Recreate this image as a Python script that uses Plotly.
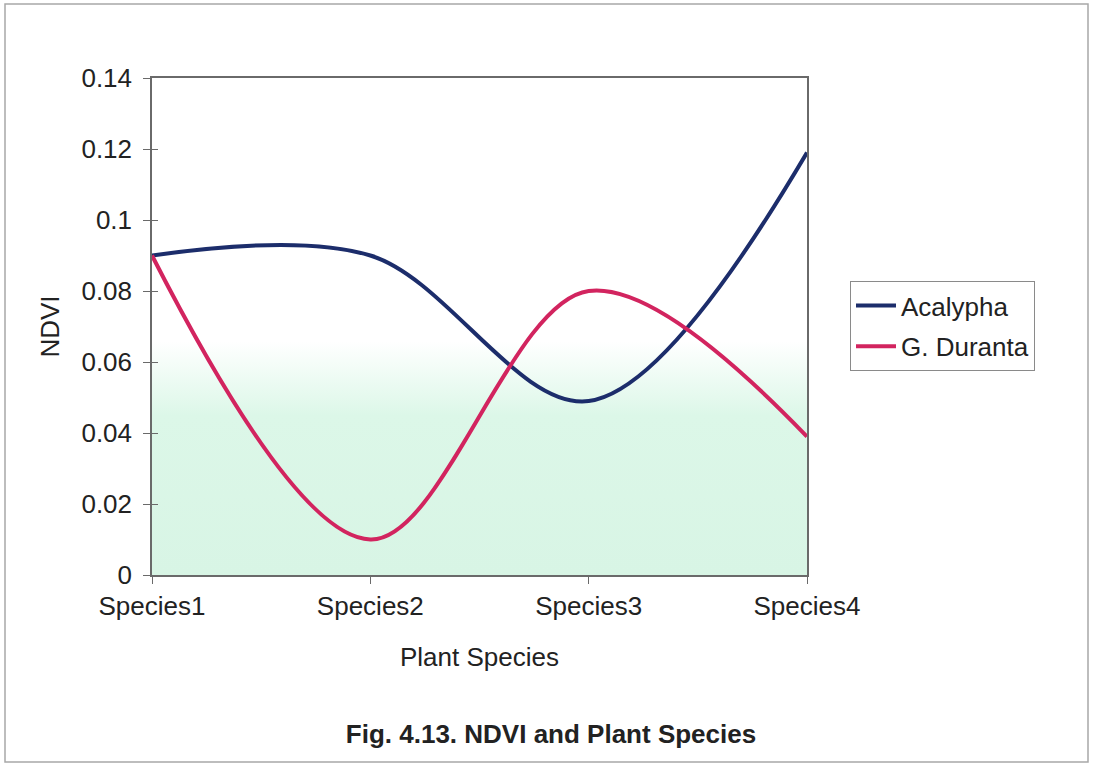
import base64
import plotly.graph_objects as go

# Plant species on the category axis
species = ["Species1", "Species2", "Species3", "Species4"]

# NDVI values per species
acalypha = [0.090, 0.090, 0.049, 0.119]
g_duranta = [0.090, 0.010, 0.080, 0.039]

# Y axis ticks
y_ticks = [0, 0.02, 0.04, 0.06, 0.08, 0.1, 0.12, 0.14]
y_tick_text = ["0", "0.02", "0.04", "0.06", "0.08", "0.1", "0.12", "0.14"]

FONT = "Arial, Liberation Sans, sans-serif"
TEXT = "#222222"
AXIS = "#6a6a6a"
FS = 26

fig = go.Figure()
fig.add_trace(go.Scatter(
    x=species, y=acalypha, name="Acalypha", mode="lines",
    line=dict(color="#1c2d6b", width=4, shape="spline", smoothing=1.0),
    legendgroup="a",
))
fig.add_trace(go.Scatter(
    x=species, y=g_duranta, name="G. Duranta", mode="lines",
    line=dict(color="#d2245f", width=4, shape="spline", smoothing=1.0),
    legendgroup="b",
))
# empty trace so the overlay axis (inner tick marks) is drawn
fig.add_trace(go.Scatter(
    x=[], y=[], yaxis="y2", showlegend=False, hoverinfo="skip",
))

# Soft white-to-mint wash behind the plot area
svg = (
    "<svg xmlns='http://www.w3.org/2000/svg' width='100' height='100' "
    "preserveAspectRatio='none'><defs><linearGradient id='g' x1='0' y1='0' "
    "x2='0' y2='1'><stop offset='0.53' stop-color='#ffffff'/>"
    "<stop offset='0.68' stop-color='#dcf7e8'/>"
    "<stop offset='1' stop-color='#d8f5e5'/></linearGradient></defs>"
    "<rect width='100' height='100' fill='url(#g)'/></svg>"
)
svg_uri = "data:image/svg+xml;base64," + base64.b64encode(svg.encode()).decode()

fig.update_layout(
    width=1098, height=770,
    margin=dict(l=152, r=291, t=78, b=195),
    paper_bgcolor="white",
    plot_bgcolor="rgba(0,0,0,0)",
    font=dict(family=FONT, size=FS, color=TEXT),
    images=[dict(
        source=svg_uri, xref="paper", yref="paper", x=0, y=1,
        sizex=1, sizey=1, sizing="stretch", layer="below",
        xanchor="left", yanchor="top",
    )],
    title=dict(
        text="<b>Fig. 4.13. NDVI and Plant Species</b>",
        x=551 / 1098, xref="container", xanchor="center",
        y=36 / 770, yref="container", yanchor="middle",
        font=dict(family=FONT, size=26, color=TEXT),
    ),
    xaxis=dict(
        type="category", range=[0, 3],
        showline=True, linecolor=AXIS, linewidth=1.5, mirror=True,
        ticks="outside", ticklen=7, tickcolor=AXIS, tickwidth=1,
        showgrid=False, zeroline=False,
        tickfont=dict(size=FS, color=TEXT),
        title=dict(text="Plant Species", font=dict(size=FS, color=TEXT), standoff=28),
    ),
    yaxis=dict(
        range=[0, 0.14], tickvals=y_ticks, ticktext=y_tick_text,
        showline=True, linecolor=AXIS, linewidth=1.5, mirror=True,
        ticks="outside", ticklen=7, tickcolor=AXIS, tickwidth=1,
        ticklabelstandoff=6,
        showgrid=False, zeroline=False,
        tickfont=dict(size=FS, color=TEXT),
        title=dict(text="NDVI", font=dict(size=FS, color=TEXT), standoff=14),
    ),
    # inner half of the crossing y ticks
    yaxis2=dict(
        overlaying="y", side="left", anchor="x",
        range=[0, 0.14], tickvals=y_ticks,
        ticks="inside", ticklen=6, tickcolor=AXIS, tickwidth=1,
        showticklabels=False, showline=False, showgrid=False, zeroline=False,
    ),
    legend=dict(
        x=(850 - 152) / 655, y=(575 - 281) / 497,
        xanchor="left", yanchor="top",
        bordercolor="#8a8a8a", borderwidth=1, bgcolor="white",
        font=dict(size=FS, color=TEXT),
        tracegroupgap=4, itemwidth=40,
    ),
    shapes=[dict(
        type="rect", xref="paper", yref="paper",
        x0=(5 - 152) / 655, x1=(1088 - 152) / 655,
        y0=(575 - 762) / 497, y1=(575 - 4) / 497,
        line=dict(color="#a8a8a8", width=1.5), fillcolor="rgba(0,0,0,0)",
        layer="below",
    )],
)

fig.write_html("out.html")
